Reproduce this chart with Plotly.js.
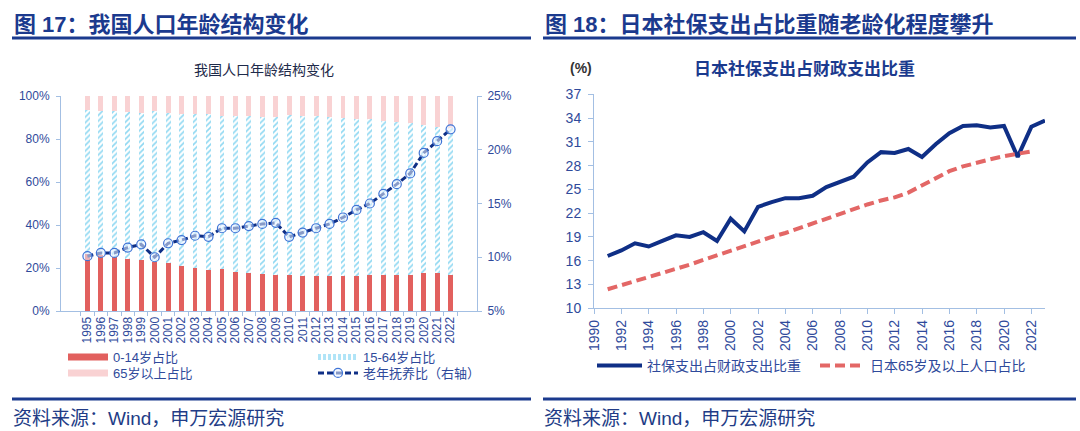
<!DOCTYPE html>
<html>
<head>
<meta charset="utf-8">
<script src="https://cdn.plot.ly/plotly-3.0.1.min.js"></script>
<style>html,body{margin:0;padding:0;background:#fff;}#chart{width:1080px;height:431px;}</style>
</head>
<body>
<div id="chart"></div>
<script>
// ---------- Data: Figure 17 (China age structure) ----------
const years = ['1995','1996','1997','1998','1999','2000','2001','2002','2003','2004','2005','2006','2007','2008','2009','2010','2011','2012','2013','2014','2015','2016','2017','2018','2019','2020','2021','2022'];
const age0to14 = [26.5,26.0,25.3,24.2,23.7,22.9,22.5,21.1,20.2,19.1,19.4,18.3,17.8,17.1,16.6,16.6,16.5,16.5,16.4,16.5,16.5,16.7,16.8,16.9,16.8,17.9,17.5,16.9];
const age15to64 = [66.8,67.0,67.7,68.4,68.6,70.1,69.6,70.7,71.3,72.3,71.5,72.5,72.8,73.3,73.7,74.5,74.4,74.1,73.9,73.4,73.0,72.5,71.8,71.2,70.6,68.6,68.3,68.2];
const age65plus = [6.7,7.0,7.0,7.4,7.7,7.0,7.9,8.2,8.5,8.6,9.1,9.2,9.4,9.6,9.7,8.9,9.1,9.4,9.7,10.1,10.5,10.8,11.4,11.9,12.6,13.5,14.2,14.9];
const oldDepRatio = [10.1,10.4,10.4,10.9,11.2,10.0,11.3,11.6,12.0,11.9,12.7,12.7,12.9,13.1,13.2,11.9,12.3,12.7,13.1,13.7,14.4,15.0,15.9,16.8,17.8,19.7,20.8,21.9];

// ---------- Data: Figure 18 (Japan) ----------
const jpSocialYears = [1991,1992,1993,1994,1995,1996,1997,1998,1999,2000,2001,2002,2003,2004,2005,2006,2007,2008,2009,2010,2011,2012,2013,2014,2015,2016,2017,2018,2019,2020,2021,2022,2023];
const jpSocialShare = [16.6,17.3,18.2,17.8,18.5,19.2,19.0,19.6,18.5,21.3,19.7,22.8,23.4,23.9,23.9,24.2,25.3,25.9,26.6,28.4,29.7,29.6,30.1,29.1,30.7,32.1,33.0,33.1,32.8,33.0,29.1,32.9,33.7];
const jp65Years = [1991,1992,1993,1994,1995,1996,1997,1998,1999,2000,2001,2002,2003,2004,2005,2006,2007,2008,2009,2010,2011,2012,2013,2014,2015,2016,2017,2018,2019,2020,2021,2022];
const jp65Share = [12.4,12.9,13.4,13.9,14.5,15.0,15.5,16.1,16.7,17.3,17.9,18.5,19.0,19.5,20.1,20.7,21.4,22.0,22.6,23.1,23.6,24.0,24.6,25.5,26.4,27.3,27.9,28.4,28.8,29.2,29.5,29.8];

const names = {
  a: '0-14岁占比', b: '15-64岁占比', c: '65岁以上占比', d: '老年抚养比（右轴）',
  e: '社保支出占财政支出比重', f: '日本65岁及以上人口占比'
};

const W = 1080, H = 431;
const px = v => v / W;
const py = v => 1 - v / H;

const FONT = 'Liberation Sans, Arial, Noto Sans CJK SC, sans-serif';
const NAVY = '#1b3a8e';
const TICKC = '#2f4a9b';
const AXC = '#a3bfe3';
const RED = '#e2605e';
const PINK = '#f9d2d3';
const HATCH = '#8fd8f2';
const LINEBLUE = '#0f2f86';

const traces = [
  {type:'bar', x: years, y: age0to14, name: names.a, marker:{color: RED}, showlegend:false, xaxis:'x', yaxis:'y'},
  {type:'bar', x: years, y: age15to64, name: names.b, marker:{color:'#ffffff', pattern:{shape:'/', fgcolor: HATCH, bgcolor:'#ffffff', size:4, solidity:0.4}}, showlegend:false, xaxis:'x', yaxis:'y'},
  {type:'bar', x: years, y: age65plus, name: names.c, marker:{color: PINK}, showlegend:false, xaxis:'x', yaxis:'y'},
  {type:'scatter', mode:'lines+markers', x: years, y: oldDepRatio, name: names.d, xaxis:'x', yaxis:'y2',
   line:{color: LINEBLUE, width:3, dash:'6px,3px'},
   marker:{symbol:'circle', size:9, color:'rgba(235,243,255,0.55)', line:{color:'#3f74d6', width:1.2}},
   legend:'legend4'},
  // legend swatches for the bar series
  {type:'scatter', mode:'lines', x:[null], y:[null], name: names.a, line:{color: RED, width:7}, xaxis:'x', yaxis:'y', legend:'legend'},
  {type:'scatter', mode:'lines', x:[null], y:[null], name: names.b, line:{color:'#b0e4f7', width:6, dash:'3px,2px'}, xaxis:'x', yaxis:'y', legend:'legend2'},
  {type:'scatter', mode:'lines', x:[null], y:[null], name: names.c, line:{color: PINK, width:7}, xaxis:'x', yaxis:'y', legend:'legend3'},
  // Japan
  {type:'scatter', mode:'lines', x: jpSocialYears, y: jpSocialShare, name: names.e, xaxis:'x2', yaxis:'y3',
   line:{color: LINEBLUE, width:4}, legend:'legend5'},
  {type:'scatter', mode:'lines', x: jp65Years, y: jp65Share, name: names.f, xaxis:'x2', yaxis:'y3',
   line:{color:'#e36766', width:4, dash:'10px,5px'}, legend:'legend6'}
];

function leg(x, y, size, iw) {
  return {x: px(x), y: py(y), xanchor:'left', yanchor:'middle', orientation:'h',
    bgcolor:'rgba(0,0,0,0)', borderwidth:0, itemwidth: iw,
    font:{family: FONT, size: size, color: TICKC}};
}

const layout = {
  width: W, height: H,
  margin:{l:0, r:0, t:0, b:0, autoexpand:false},
  paper_bgcolor:'#ffffff', plot_bgcolor:'rgba(0,0,0,0)',
  font:{family: FONT},
  barmode:'stack', bargap:0.64,
  showlegend:true,
  xaxis:{domain:[px(61), px(477)], type:'category', tickmode:'array', tickvals: years, ticktext: years,
    tickangle:-90, anchor:'y',
    showline:true, linecolor: AXC, linewidth:1, ticks:'outside', tickson:'boundaries', ticklen:4, tickcolor: AXC,
    tickfont:{family: FONT, size:12, color: TICKC}, showgrid:false, zeroline:false},
  yaxis:{domain:[py(311), py(96)], range:[0,100], dtick:20, ticksuffix:'%', anchor:'x',
    showline:true, linecolor: AXC, ticks:'outside', ticklen:4, tickcolor: AXC, ticklabelstandoff:4,
    tickfont:{family: FONT, size:12, color: TICKC}, showgrid:false, zeroline:false},
  yaxis2:{overlaying:'y', side:'right', anchor:'x', range:[5,25], dtick:5, ticksuffix:'%',
    showline:true, linecolor: AXC, ticks:'outside', ticklen:4, tickcolor: AXC, ticklabelstandoff:3,
    tickfont:{family: FONT, size:12, color: TICKC}, showgrid:false, zeroline:false},
  xaxis2:{domain:[px(594), px(1045)], range:[1990,2023], tick0:1990, dtick:2, tickangle:-90, anchor:'y3',
    showline:true, linecolor: AXC, ticks:'outside', ticklen:5, tickcolor: AXC,
    tickfont:{family: FONT, size:14, color: TICKC}, showgrid:false, zeroline:false},
  yaxis3:{domain:[py(308.3), py(94.3)], range:[10,37], tick0:10, dtick:3, anchor:'x2',
    showline:true, linecolor: AXC, ticks:'outside', ticklen:5, tickcolor: AXC, ticklabelstandoff:4,
    tickfont:{family: FONT, size:14, color: TICKC}, showgrid:false, zeroline:false},
  legend: leg(63, 357, 13, 40),
  legend2: leg(313, 357, 13, 40),
  legend3: leg(63, 373, 13, 40),
  legend4: leg(313, 373, 13, 40),
  legend5: leg(592, 366, 14, 45),
  legend6: leg(815, 366, 14, 45),
  shapes:[
    {type:'line', xref:'paper', yref:'paper', x0:px(12), x1:px(531), y0:py(38), y1:py(38), line:{color: NAVY, width:3}},
    {type:'line', xref:'paper', yref:'paper', x0:px(543), x1:px(1076), y0:py(38), y1:py(38), line:{color: NAVY, width:3}},
    {type:'line', xref:'paper', yref:'paper', x0:px(12), x1:px(531), y0:py(399), y1:py(399), line:{color: NAVY, width:3}},
    {type:'line', xref:'paper', yref:'paper', x0:px(543), x1:px(1076), y0:py(399), y1:py(399), line:{color: NAVY, width:3}}
  ],
  annotations:[
    {text:'图 17：我国人口年龄结构变化', xref:'paper', yref:'paper', x:px(12), y:py(24), xanchor:'left', yanchor:'middle', showarrow:false,
     font:{family: FONT, size:22, weight:'bold', color: NAVY}},
    {text:'图 18：日本社保支出占比重随老龄化程度攀升', xref:'paper', yref:'paper', x:px(543), y:py(24), xanchor:'left', yanchor:'middle', showarrow:false,
     font:{family: FONT, size:22, weight:'bold', color: NAVY}},
    {text:'我国人口年龄结构变化', xref:'paper', yref:'paper', x:px(264), y:py(70), xanchor:'center', yanchor:'middle', showarrow:false,
     font:{family: FONT, size:14, color:'#1e2a4a'}},
    {text:'日本社保支出占财政支出比重', xref:'paper', yref:'paper', x:px(804), y:py(69), xanchor:'center', yanchor:'middle', showarrow:false,
     font:{family: FONT, size:17, weight:'bold', color: NAVY}},
    {text:'(%)', xref:'paper', yref:'paper', x:px(581), y:py(68), xanchor:'center', yanchor:'middle', showarrow:false,
     font:{family: FONT, size:14, weight:'bold', color:'#333333'}},
    {text:'资料来源：Wind，申万宏源研究', xref:'paper', yref:'paper', x:px(11), y:py(418), xanchor:'left', yanchor:'middle', showarrow:false,
     font:{family: FONT, size:19, color:'#223c86'}},
    {text:'资料来源：Wind，申万宏源研究', xref:'paper', yref:'paper', x:px(542), y:py(418), xanchor:'left', yanchor:'middle', showarrow:false,
     font:{family: FONT, size:19, color:'#223c86'}}
  ]
};

Plotly.newPlot('chart', traces, layout, {staticPlot:true, displayModeBar:false});
</script>
</body>
</html>
